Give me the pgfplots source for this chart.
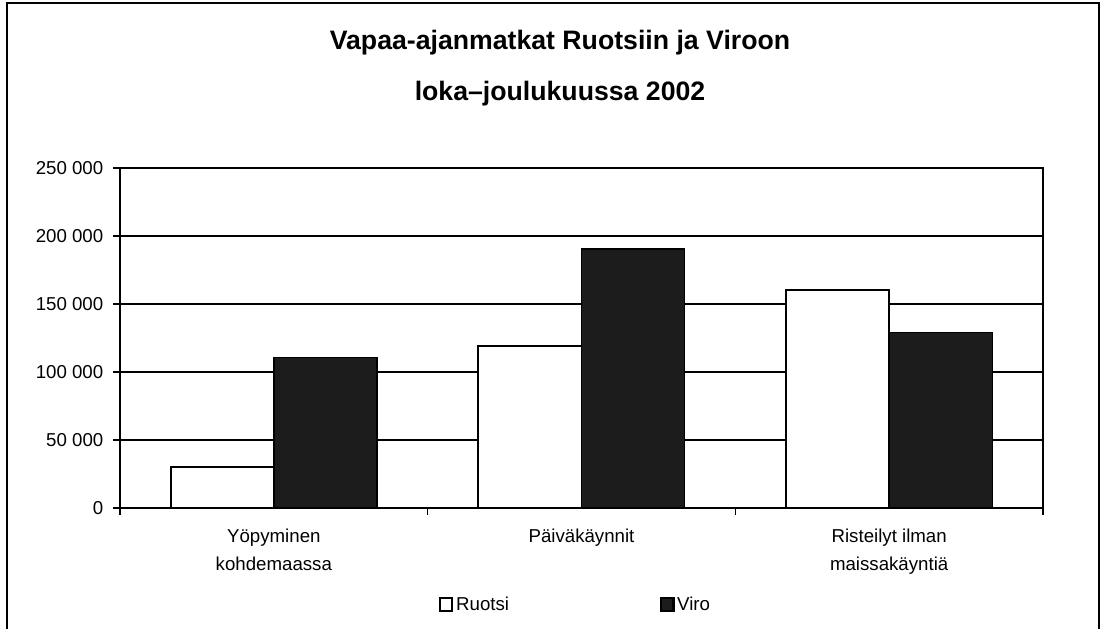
\documentclass[border=0pt]{standalone}
\usepackage{pgfplots}
\pgfplotsset{compat=1.18}
\usepackage{fontspec}
\setmainfont{Liberation Sans}
\definecolor{viro}{RGB}{28,28,28}
\begin{document}
\begin{tikzpicture}
\useasboundingbox (0pt,0pt) rectangle (827.25pt,471.75pt);
\draw[line width=1.4pt] (5.25pt,0pt) -- (5.25pt,469.5pt) -- (824.25pt,469.5pt) -- (824.25pt,0pt);
\node[font=\fontsize{20}{24}\selectfont\bfseries, anchor=base] at (420pt,434.25pt) {Vapaa-ajanmatkat Ruotsiin ja Viroon};
\node[font=\fontsize{20}{24}\selectfont\bfseries, anchor=base] at (420pt,396pt) {loka--joulukuussa 2002};
\begin{axis}[
  at={(90pt,90.75pt)}, anchor=south west,
  scale only axis, width=692.25pt, height=255pt,
  ybar=0pt, bar width=0.335,
  xmin=-0.5, xmax=2.5, ymin=0, ymax=250000,
  scaled y ticks=false,
  xtick pos=bottom, ytick pos=left,
  xtick={-0.5,0.5,1.5,2.5},
  xticklabels={},
  extra x ticks={0,1,2},
  extra x tick labels={Yöpyminen\\kohdemaassa, Päiväkäynnit, Risteilyt ilman\\maissakäyntiä},
  extra x tick style={major tick length=0pt},
  x tick label style={align=center, font=\fontsize{14}{21}\selectfont, anchor=north, yshift=-12pt},
  ytick={0,50000,100000,150000,200000,250000},
  yticklabels={0,50 000,100 000,150 000,200 000,250 000},
  y tick label style={font=\fontsize{14}{16}\selectfont, xshift=-4pt},
  tick align=outside, major tick length=5pt,
  tick style={line width=1pt, black},
  ymajorgrids, grid style={line width=1pt, black},
  axis line style={line width=1.8pt},
  /pgf/number format/assume math mode=true,
  legend style={at={(0.493,-0.285)}, anchor=center, draw=none, fill=none,
    font=\fontsize{14}{16}\selectfont, legend columns=2,
    /tikz/every even column/.append style={column sep=112pt},
    /tikz/every odd column/.append style={column sep=1pt},
    nodes={inner xsep=1pt}},
  legend image code/.code={\draw[#1, line width=1.6pt] (0pt,-4.5pt) rectangle (9.5pt,5pt);},
]
\addplot[draw=black, line width=1.5pt, fill=white] coordinates {(0,30000) (1,119000) (2,160000)};
\addplot[draw=black, line width=1pt, fill=viro] coordinates {(0,110500) (1,190500) (2,129000)};
\legend{Ruotsi, Viro}
\end{axis}
\end{tikzpicture}
\end{document}
